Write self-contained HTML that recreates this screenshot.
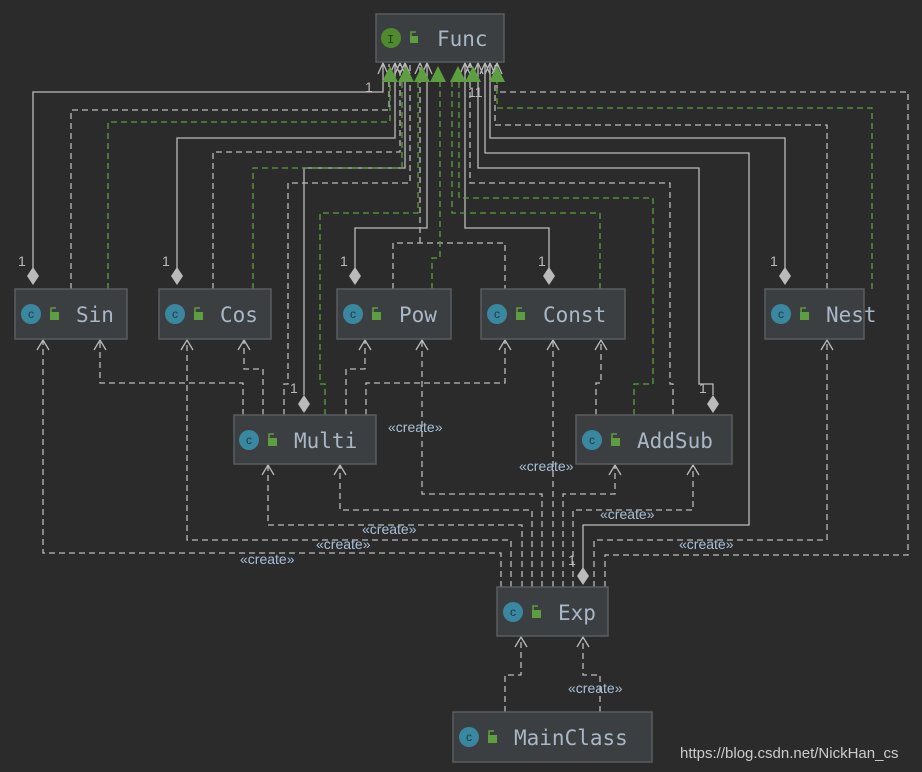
<!DOCTYPE html>
<html><head><meta charset="utf-8"><style>
body{margin:0;background:#2b2b2b;width:922px;height:772px;overflow:hidden}
svg{display:block}
.n{fill:#3c3f41;stroke:#5a5d5f;stroke-width:1.5}
.t{font-family:"DejaVu Sans Mono","Liberation Mono",monospace;font-size:21px;fill:#a9b7c6}
.s{fill:none;stroke:#bbbbbb;stroke-width:1.3}
.d{fill:none;stroke:#bbbbbb;stroke-width:1.3;stroke-dasharray:6,4}
.g{fill:none;stroke:#5d9e40;stroke-width:1.3;stroke-dasharray:6,4}
.l{font-family:"Liberation Sans",sans-serif;font-size:14px;fill:#a9c0d8}
.o{font-family:"Liberation Sans",sans-serif;font-size:14px;fill:#bbbbbb}
.c{font-family:"Liberation Sans",sans-serif;font-size:12px;fill:#1c3a48;text-anchor:middle}
</style></head><body>
<svg width="922" height="772" viewBox="0 0 922 772">
<path class="s" d="M33 268V92H383V64"/>
<path class="s" d="M177 268V138H395V64"/>
<path class="s" d="M355 268V228H427V64"/>
<path class="s" d="M549 268V228H465V64"/>
<path class="s" d="M785 268V138H490V64"/>
<path class="s" d="M304 395V168H405V64"/>
<path class="s" d="M713 395V384H699V168H478V64"/>
<path class="s" d="M583 568V525H749V153H485V64"/>
<path class="d" d="M71 289V110H389V64"/>
<path class="d" d="M213 289V152H400V64"/>
<path class="d" d="M393 289V243H505V289"/>
<path class="d" d="M420 243V64"/>
<path class="d" d="M827 289V125H495V64"/>
<path class="d" d="M284 415V384H288V183H410V64"/>
<path class="d" d="M673 415V384H670V183H470V64"/>
<path class="d" d="M605 587V555H908V92H497V64"/>
<path class="g" d="M108 289V122H390V80"/>
<path class="g" d="M253 289V168H402V80"/>
<path class="g" d="M432 289V258H440V80"/>
<path class="g" d="M600 289V213H452V80"/>
<path class="g" d="M872 289V108H497V80"/>
<path class="g" d="M325 415V384H320V213H418V80"/>
<path class="g" d="M634 415V384H653V198H459V80"/>
<path class="d" d="M243 415V383H100V341"/>
<path class="d" d="M263 415V369H244V341"/>
<path class="d" d="M346 415V369H365V341"/>
<path class="d" d="M366 415V383H505V341"/>
<path class="d" d="M596 415V383H601V341"/>
<path class="d" d="M501 587V553H43V341"/>
<path class="d" d="M511 587V540H187V341"/>
<path class="d" d="M522 587V525H268V466"/>
<path class="d" d="M532 587V510H340V466"/>
<path class="d" d="M542 587V494H422V341"/>
<path class="d" d="M553 587V341"/>
<path class="d" d="M563 587V494H615V466"/>
<path class="d" d="M573 587V510H693V466"/>
<path class="d" d="M594 587V540H827V341"/>
<path class="d" d="M505 712V675H521V638"/>
<path class="d" d="M600 712V675H583V638"/>
<g class="s">
<path d="M37 350L43 340L49 350M94 350L100 340L106 350M181 350L187 340L193 350M238 350L244 340L250 350M359 350L365 340L371 350M416 350L422 340L428 350M499 350L505 340L511 350M547 350L553 340L559 350M595 350L601 340L607 350M821 350L827 340L833 350M262 475L268 465L274 475M334 475L340 465L346 475M609 475L615 465L621 475M687 475L693 465L699 475M515 647L521 637L527 647M577 647L583 637L589 647"/>
<path d="M378 74L383 63L388 74M390 74L395 63L400 74M395 74L400 63L405 74M400 74L405 63L410 74M415 74L420 63L425 74M422 74L427 63L432 74M460 74L465 63L470 74M465 74L470 63L475 74M473 74L478 63L483 74M480 74L485 63L490 74M485 74L490 63L495 74M492 74L497 63L502 74"/>
</g>
<g fill="#5d9e40">
<path d="M382 82L390 66L398 82ZM398 82L406 66L414 82ZM414 82L422 66L430 82ZM430 82L438 66L446 82ZM450 82L458 66L466 82ZM465 82L473 66L481 82ZM489 82L497 66L505 82Z"/>
</g>
<g fill="#bbbbbb">
<path d="M33 267L39 276L33 285L27 276Z"/><path d="M177 267L183 276L177 285L171 276Z"/>
<path d="M355 267L361 276L355 285L349 276Z"/><path d="M549 267L555 276L549 285L543 276Z"/>
<path d="M785 267L791 276L785 285L779 276Z"/><path d="M304 395L310 404L304 413L298 404Z"/>
<path d="M713 395L719 404L713 413L707 404Z"/><path d="M583 567L589 576L583 585L577 576Z"/>
</g>
<g class="o"><text x="18" y="266">1</text><text x="162" y="266">1</text><text x="340" y="266">1</text><text x="538" y="266">1</text><text x="770" y="266">1</text><text x="290" y="393">1</text><text x="699" y="393">1</text><text x="568" y="565">1</text><text x="365" y="92">1</text><text x="468" y="97">11</text></g>
<rect class="n" x="376" y="14" width="128" height="48"/>
<circle cx="391" cy="38" r="10" fill="#4f8a2e"/><text x="387" y="43" font-family="Liberation Mono" font-size="12" fill="#1e3a10">I</text>
<rect x="410" y="36" width="8" height="7" fill="#5d9e40"/><text class="t" x="437" y="46">Func</text>
<rect class="n" x="15" y="289" width="112" height="50"/><rect class="n" x="159" y="289" width="112" height="50"/>
<rect class="n" x="337" y="289" width="114" height="50"/><rect class="n" x="481" y="289" width="144" height="50"/>
<rect class="n" x="765" y="289" width="99" height="50"/><rect class="n" x="234" y="415" width="142" height="49"/>
<rect class="n" x="576" y="415" width="156" height="49"/><rect class="n" x="497" y="587" width="111" height="49"/>
<rect class="n" x="453" y="712" width="199" height="50"/>
<g fill="#3a87a0">
<circle cx="31" cy="314" r="10"/><circle cx="175" cy="314" r="10"/><circle cx="353" cy="314" r="10"/><circle cx="497" cy="314" r="10"/><circle cx="781" cy="314" r="10"/><circle cx="249" cy="440" r="10"/><circle cx="592" cy="440" r="10"/><circle cx="513" cy="612" r="10"/><circle cx="469" cy="737" r="10"/>
</g>
<g class="c">
<text x="31" y="318">c</text><text x="175" y="318">c</text><text x="353" y="318">c</text><text x="497" y="318">c</text><text x="781" y="318">c</text><text x="249" y="444">c</text><text x="592" y="444">c</text><text x="513" y="616">c</text><text x="469" y="741">c</text>
</g>
<g fill="#5d9e40">
<rect x="50" y="312" width="9" height="8"/><rect x="194" y="312" width="9" height="8"/><rect x="372" y="312" width="9" height="8"/><rect x="516" y="312" width="9" height="8"/><rect x="800" y="312" width="9" height="8"/><rect x="268" y="438" width="9" height="8"/><rect x="611" y="438" width="9" height="8"/><rect x="532" y="610" width="9" height="8"/><rect x="488" y="735" width="9" height="8"/>
</g>
<g fill="none" stroke="#5d9e40" stroke-width="1.5">
<path d="M51 312V308H56M195 312V308H200M373 312V308H378M517 312V308H522M801 312V308H806M269 438V434H274M612 438V434H617M533 610V606H538M489 735V731H494M411 36V32H416"/>
</g>
<g class="t">
<text x="76" y="322">Sin</text><text x="220" y="322">Cos</text><text x="399" y="322">Pow</text><text x="543" y="322">Const</text><text x="826" y="322">Nest</text><text x="294" y="448">Multi</text><text x="637" y="448">AddSub</text><text x="558" y="620">Exp</text><text x="514" y="745">MainClass</text>
</g>
<g class="l">
<text x="388" y="432">«create»</text><text x="519" y="471">«create»</text><text x="600" y="519">«create»</text><text x="362" y="534">«create»</text><text x="316" y="549">«create»</text><text x="240" y="564">«create»</text><text x="679" y="549">«create»</text><text x="568" y="693">«create»</text>
</g>
<text x="680" y="758" font-family="Liberation Sans" font-size="15" fill="#cccccc">https://blog.csdn.net/NickHan_cs</text>
</svg>
</body></html>
